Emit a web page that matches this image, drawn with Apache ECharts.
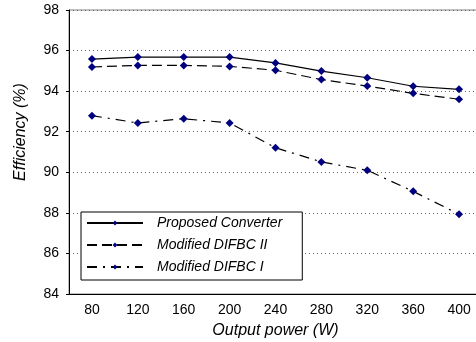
<!DOCTYPE html>
<html>
<head>
<meta charset="utf-8">
<script src="https://cdn.jsdelivr.net/npm/echarts@6/dist/echarts.min.js"></script>
<style>
  html, body { margin: 0; padding: 0; background: #fff; }
  #chart { width: 476px; height: 342px; }
</style>
</head>
<body>
<div id="chart"></div>
<script>
const powers = ['80', '120', '160', '200', '240', '280', '320', '360', '400'];
const proposed = [95.58, 95.68, 95.68, 95.68, 95.39, 94.99, 94.66, 94.24, 94.09];
const difbcII = [95.19, 95.27, 95.27, 95.22, 95.03, 94.57, 94.25, 93.89, 93.60];
const difbcI = [92.79, 92.43, 92.64, 92.43, 91.21, 90.51, 90.10, 89.06, 87.93];

const FONT = 'Liberation Sans, Arial, sans-serif';
const MARK = '#00007f';

const chart = echarts.init(document.getElementById('chart'));

function lineSeries(name, data, dash) {
  return {
    name, type: 'line', data,
    symbol: 'diamond', symbolSize: 8,
    itemStyle: { color: MARK },
    lineStyle: { color: '#000', width: 1.2, type: dash },
    emphasis: { disabled: true },
    animation: false,
  };
}

chart.setOption({
  animation: false,
  // plot runs a few px past the right edge, like the original crop
  grid: {
    left: 69, top: 10, width: 413, height: 284,
    outerBoundsMode: 'none',
    show: true, borderColor: '#808080', borderWidth: 1,
  },
  legend: {
    orient: 'vertical', left: 81, top: 212,
    padding: [4, 20, 6, 5],
    itemWidth: 56, itemHeight: 6, itemGap: 8,
    borderColor: '#000', borderWidth: 1, backgroundColor: '#fff',
    textStyle: { fontFamily: FONT, fontSize: 14, fontStyle: 'italic', color: '#000', lineHeight: 14, padding: [0, 0, 0, 9] },
    data: ['Proposed Converter', 'Modified DIFBC II', 'Modified DIFBC I'],
  },
  xAxis: {
    type: 'category', data: powers, boundaryGap: true,
    name: 'Output power (W)', nameLocation: 'middle', nameGap: 29,
    nameTextStyle: { fontFamily: FONT, fontSize: 16, fontStyle: 'italic', color: '#000' },
    axisLine: { lineStyle: { color: '#000', width: 1 } },
    axisTick: { inside: true, length: 3, lineStyle: { color: '#000' } },
    axisLabel: { fontFamily: FONT, fontSize: 14, color: '#000', margin: 9 },
  },
  yAxis: {
    type: 'value', min: 84, max: 98, interval: 2,
    axisLine: { show: true, lineStyle: { color: '#000', width: 1 } },
    axisTick: { show: true, length: 3, lineStyle: { color: '#000' } },
    axisLabel: { fontFamily: FONT, fontSize: 14, color: '#000', margin: 10 },
    splitLine: { lineStyle: { color: '#666', type: [1, 3], width: 1 } },
  },
  graphic: [{
    type: 'text', x: 21, y: 132, rotation: Math.PI / 2,
    style: { text: 'Efficiency (%)', fontFamily: FONT, fontSize: 16, fontStyle: 'italic', fill: '#000', align: 'center', verticalAlign: 'middle' },
  }],
  series: [
    lineSeries('Proposed Converter', proposed, 'solid'),
    lineSeries('Modified DIFBC II', difbcII, [10, 5]),
    lineSeries('Modified DIFBC I', difbcI, [10, 6, 2, 6]),
  ],
});
</script>
</body>
</html>
